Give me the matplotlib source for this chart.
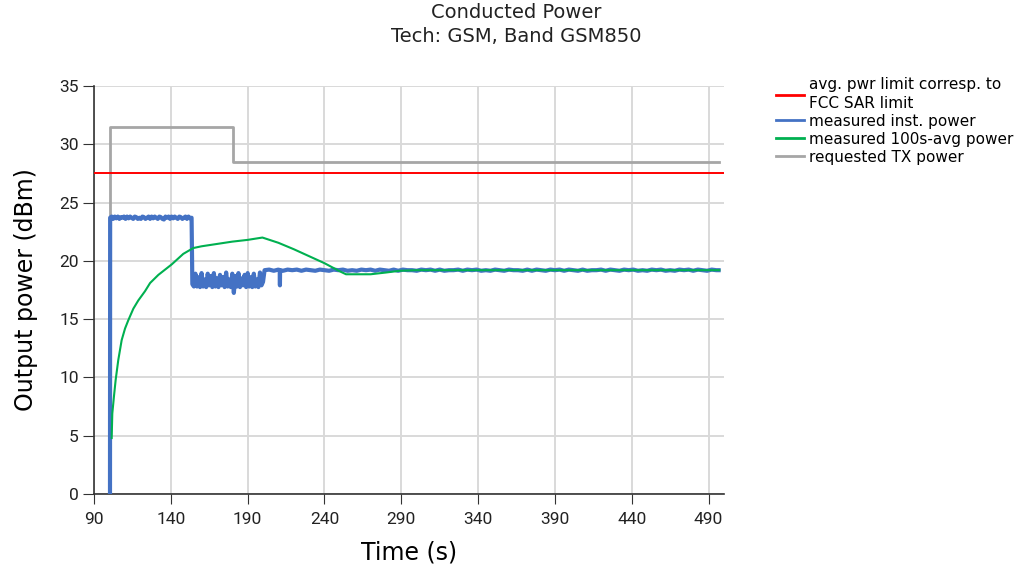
import numpy as np
import matplotlib
matplotlib.use("Agg")
import matplotlib.pyplot as plt

# ---- data ----
limit_t = [90, 500]
limit_v = [27.5, 27.5]

req_t = [100.5, 100.5, 180.5, 180.5, 497]
req_v = [0, 31.5, 31.5, 28.5, 28.5]

# measured instantaneous power, three segments
inst1_t = np.arange(100.5, 154, 1)
inst1_v = [23.7, 23.8, 23.6, 23.8, 23.65, 23.8, 23.6, 23.75, 23.7, 23.8,
           23.6, 23.8, 23.65, 23.8, 23.7, 23.6, 23.8, 23.75, 23.6, 23.7,
           23.6, 23.8, 23.75, 23.6, 23.7, 23.8, 23.6, 23.8, 23.65, 23.8,
           23.7, 23.6, 23.8, 23.75, 23.6, 23.55, 23.8, 23.7, 23.8, 23.6,
           23.8, 23.65, 23.8, 23.7, 23.6, 23.8, 23.75, 23.6, 23.7, 23.8,
           23.6, 23.8, 23.65, 23.7]
inst2_t = np.arange(154, 201, 1)
inst2_v = [18.0, 17.8, 18.9, 17.8, 18.6, 17.75, 18.95, 17.8, 18.4, 17.75,
           18.9, 17.9, 18.7, 17.75, 18.95, 17.8, 18.5, 17.75, 18.8, 17.9,
           18.6, 17.75, 19.0, 17.8, 18.4, 17.75, 18.9, 17.25, 18.7, 17.8,
           18.95, 17.75, 18.5, 17.9, 18.8, 17.75, 18.95, 17.8, 18.6, 17.75,
           18.9, 17.8, 18.4, 17.75, 19.0, 17.9, 18.2]
inst3_t = np.arange(201, 496, 3)
inst3_v = [19.2, 19.25, 19.15, 19.25, 19.15, 19.25, 19.2, 19.25, 19.15, 19.25, 19.2,
           19.15, 19.25, 19.2, 19.15, 19.25, 19.2, 19.25, 19.15, 19.2, 19.15, 19.25,
           19.2, 19.25, 19.15, 19.25, 19.2, 19.15, 19.25, 19.15, 19.25, 19.2, 19.2,
           19.15, 19.25, 19.2, 19.25, 19.15, 19.25, 19.15, 19.2, 19.2, 19.25, 19.15,
           19.25, 19.2, 19.25, 19.15, 19.2, 19.15, 19.25, 19.2, 19.15, 19.25, 19.2,
           19.2, 19.15, 19.25, 19.15, 19.25, 19.2, 19.15, 19.25, 19.2, 19.25, 19.15,
           19.25, 19.2, 19.15, 19.25, 19.15, 19.2, 19.2, 19.25, 19.15, 19.25, 19.2,
           19.15, 19.25, 19.2, 19.25, 19.15, 19.2, 19.15, 19.25, 19.2, 19.25, 19.15,
           19.2, 19.15, 19.25, 19.2, 19.25, 19.15, 19.25, 19.2, 19.15, 19.25, 19.2]
extra_t = [100.4, 210.9, 211.0, 211.1, 496.5]
extra_v = [0.0, 19.2, 17.9, 19.2, 19.2]

# measured 100 s average power
avg_t = [101.5, 101.9, 103.0, 104.1, 105.8, 108.0, 110.2, 112.3, 115.6, 118.8,
         123.2, 126.5, 131.9, 140.6, 148.1, 154.6, 160, 170, 180, 190,
         199.6, 210, 220, 230, 240, 250, 254, 262, 270, 280, 289, 300, 497]
avg_v = [4.8, 6.9, 8.4, 9.8, 11.5, 13.2, 14.2, 14.9, 15.9, 16.6,
         17.4, 18.1, 18.8, 19.7, 20.6, 21.1, 21.25, 21.45, 21.65, 21.8,
         22.0, 21.55, 21.0, 20.4, 19.8, 19.1, 18.85, 18.85, 18.85, 19.0, 19.15, 19.2, 19.2]

labels = ["avg. pwr limit corresp. to\nFCC SAR limit", "measured inst. power",
          "measured 100s-avg power", "requested TX power"]

# ---- assemble blue series ----
inst_t = np.concatenate([inst1_t, inst2_t, inst3_t, extra_t])
inst_v = np.concatenate([inst1_v, inst2_v, inst3_v, extra_v])
order = np.argsort(inst_t, kind="stable")
inst_t, inst_v = inst_t[order], inst_v[order]

fig = plt.figure(figsize=(10.23, 5.75), dpi=100)
ax = fig.add_axes([0.0919, 0.1409, 0.6158, 0.7095])

l_req, = ax.plot(req_t, req_v, color="#a6a6a6", lw=2, zorder=2)
l_lim, = ax.plot(limit_t, limit_v, color="#ff0000", lw=1.4, zorder=3)
l_inst, = ax.plot(inst_t, inst_v, color="#4472c4", lw=3.0, zorder=4)
l_avg, = ax.plot(avg_t, avg_v, color="#00b050", lw=1.5, zorder=5)

ax.set_xlim(90, 500)
ax.set_ylim(0, 35)
ax.set_xticks(np.arange(90, 491, 50))
ax.set_yticks(np.arange(0, 36, 5))
ax.grid(True, color="#d9d9d9", lw=1.4)
ax.set_axisbelow(True)
for s in ["top", "right"]:
    ax.spines[s].set_visible(False)
for s in ["left", "bottom"]:
    ax.spines[s].set_color("#333333")
    ax.spines[s].set_linewidth(1.2)
ax.tick_params(axis="y", length=8, pad=3, color="#333333", labelsize=12.5, labelcolor="#222222")
ax.tick_params(axis="x", length=7, pad=6, color="#333333", labelsize=12.5, labelcolor="#222222")
for lab in ax.get_xticklabels() + ax.get_yticklabels():
    lab.set_family("Roboto")

ax.set_xlabel("Time (s)", fontsize=17, labelpad=10)
ax.set_ylabel("Output power (dBm)", fontsize=17, labelpad=15)

fig.text(0.505, 0.994, "Conducted Power\nTech: GSM, Band GSM850", ha="center", va="top",
         fontsize=14, color="#222222", linespacing=1.3)

leg = fig.legend([l_lim, l_inst, l_avg, l_req], labels, loc="upper left",
                 bbox_to_anchor=(0.759, 0.866), frameon=False, fontsize=11,
                 handlelength=1.8, handletextpad=0.35, labelspacing=0.2,
                 borderpad=0, borderaxespad=0)
for t in leg.get_texts():
    t.set_linespacing(1.3)
for h in leg.legend_handles:
    h.set_linewidth(2)

fig.savefig("out.png", dpi=100)
